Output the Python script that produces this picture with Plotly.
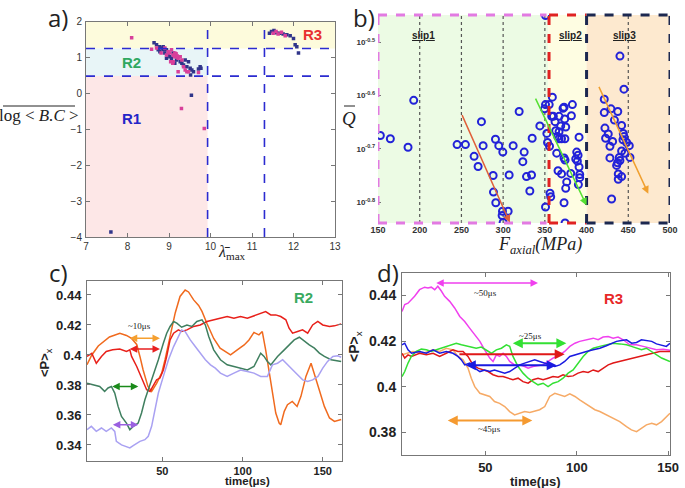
import plotly.graph_objects as go

W, H = 685, 488
def px(x): return x / W
def py(y): return 1 - y / H

SANS = "Liberation Sans, Arial, sans-serif"
SERIF = "Liberation Serif, Times New Roman, serif"

# ---------------- Panel a data ----------------
a_navy_x = [8.64, 8.70, 8.77, 8.82, 8.86, 8.78, 8.90, 8.94, 8.98, 9.02, 9.10, 9.06, 9.18, 9.27, 9.31,
            9.35, 9.39, 9.43, 9.47, 9.51, 9.55, 9.59, 9.71, 9.75, 9.77, 9.52, 8.86, 8.74, 8.94, 9.14,
            11.42, 11.47, 11.53, 11.59, 11.67, 11.75, 11.84, 11.92, 12.0, 12.04, 12.08, 12.12,
            9.54, 7.6]
a_navy_y = [1.41, 1.35, 1.30, 1.26, 1.21, 1.16, 1.12, 1.21, 1.07, 1.02, 1.12, 0.98, 0.93, 0.88, 0.84,
            0.79, 0.93, 0.74, 0.88, 0.70, 0.65, 0.60, 0.68, 0.74, 0.70, 0.51, 1.30, 1.21, 0.98, 0.84,
            1.67, 1.72, 1.75, 1.69, 1.67, 1.65, 1.63, 1.60, 1.53, 1.35, 1.30, 1.12,
            -0.05, -3.86]
a_pink_x = [8.58, 8.70, 8.81, 8.90, 8.98, 9.02, 9.06, 9.10, 9.14, 9.17, 9.18, 9.22, 9.27, 9.10, 9.31,
            9.35, 9.39, 9.43, 9.22, 9.47, 8.94, 9.04, 9.09, 9.71, 9.12, 9.16, 9.20, 9.14,
            11.51, 11.58, 11.63, 11.71, 11.80,
            8.1, 9.3, 9.85]
a_pink_y = [1.23, 1.26, 1.12, 1.26, 1.16, 1.12, 1.21, 1.07, 1.02, 1.10, 1.02, 0.98, 1.02, 0.88, 0.93,
            0.74, 0.65, 0.60, 0.60, 0.60, 1.07, 0.88, 0.84, 0.58, 1.05, 1.08, 1.04, 1.12,
            1.67, 1.72, 1.65, 1.70, 1.60,
            1.55, -0.42, -0.98]
a_vlines = [9.93, 11.3]
a_hlines = [1.25, 0.48]

# ---------------- Panel b data ----------------
b_force = [152.8, 164.8, 186, 192.8, 244.8, 254.8, 274, 276, 265.2, 270, 290.8, 294.8, 299.6, 288,
           288.4, 291.2, 299.2, 298.8, 306, 300, 307.2, 312, 319.2, 323.6, 325.2, 328, 334, 332,
           334.8, 344, 349.6, 350.8, 350.8, 352.4, 353.2, 355.2, 355.6, 350.8, 356.2, 357, 359,
           358.2, 360.2, 362.2, 363, 365.4, 367, 364.2, 367, 369, 367, 371.8, 373, 375, 373.8, 370,
           374, 373, 374.2, 365.8, 370, 376.2, 375, 373, 374.2, 381, 383, 381.8, 387, 388.2, 389.8,
           389, 391, 391, 391.8, 390.2, 391.8,
           440, 444.8, 421.2, 421.2, 429.2, 437.4, 433.4, 422, 426, 422.8, 431.2, 442, 444, 444.8,
           443.6, 448, 451.2, 428, 442, 446, 452, 428, 439.2, 437.2, 440, 436, 438, 442, 438, 430]
b_q_log10 = [-0.675, -0.681, -0.697, -0.609, -0.692, -0.692, -0.649, -0.694, -0.714, -0.733, -0.682,
             -0.694, -0.706, -0.75, -0.781, -0.801, -0.817, -0.825, -0.817, -0.838, -0.749, -0.694,
             -0.63, -0.724, -0.706, -0.752, -0.749, -0.779, -0.68, -0.657, -0.625, -0.617, -0.45,
             -0.671, -0.688, -0.617, -0.695, -0.809, -0.783, -0.79, -0.603, -0.639, -0.639, -0.649,
             -0.666, -0.677, -0.681, -0.708, -0.668, -0.657, -0.639, -0.624, -0.622, -0.659, -0.644,
             -0.681, -0.681, -0.717, -0.721, -0.741, -0.747, -0.762, -0.774, -0.801, -0.839, -0.746,
             -0.617, -0.638, -0.719, -0.706, -0.712, -0.723, -0.734, -0.678, -0.754, -0.767, -0.748,
             -0.526, -0.588, -0.607, -0.632, -0.625, -0.63, -0.646, -0.661, -0.672, -0.68, -0.686,
             -0.656, -0.671, -0.677, -0.683, -0.688, -0.694, -0.695, -0.704, -0.708, -0.716, -0.717,
             -0.716, -0.726, -0.722, -0.731, -0.747, -0.752, -0.757, -0.794]
b_q = [10 ** v for v in b_q_log10]
b_dotted = [200, 250, 300, 350, 450]
b_slips = ["slip1", "slip2", "slip3"]
b_slip_x = [204, 381, 446]

# ---------------- Panel c data (time in us, <P>x) ----------------
c_orange_t = [3, 6, 10, 17, 23.5, 27.6, 30.8, 34, 36, 38, 41, 43.3, 46.4, 49.6, 51.7, 54.8, 58, 61, 64.2,
              66.3, 69.5, 72.6, 74.7, 77.8, 82, 86, 92.5, 96.7, 101, 104, 107.1, 110.2, 112.3, 114.4,
              116.5, 118.6, 120.7, 122.8, 123.8, 126, 128, 131, 134, 136.4, 139.5, 142.7, 145.8, 149,
              151, 154.2, 157.3, 161.5]
c_orange_v = [0.3935, 0.400, 0.406, 0.412, 0.4145, 0.413, 0.411, 0.407, 0.399, 0.390, 0.379, 0.3757,
              0.381, 0.388, 0.397, 0.4123, 0.428, 0.439, 0.4433, 0.442, 0.4367, 0.433, 0.429, 0.421,
              0.411, 0.4045, 0.400, 0.4034, 0.4067, 0.410, 0.415, 0.4134, 0.4156, 0.4034, 0.39, 0.3768,
              0.3613, 0.3546, 0.3535, 0.3624, 0.3668, 0.369, 0.3657, 0.3724, 0.3857, 0.3945, 0.3834,
              0.3724, 0.3657, 0.358, 0.3557, 0.357]
c_red_t = [3, 6, 8.8, 12, 15, 19, 23.4, 27.6, 29.7, 30.8, 34, 37, 40.2, 42.3, 44.4, 46.4, 48.5, 50.6,
           52.7, 54.8, 57, 60, 62, 65.3, 69.5, 73.6, 77.8, 82, 86, 90.4, 94.6, 98.7, 103, 107, 111.3,
           114.4, 117.6, 120.7, 123.8, 127, 129, 131.2, 134.3, 137.4, 140.6, 143.7, 146.9, 150, 154.2,
           157.3, 161.5]
c_red_v = [0.399, 0.401, 0.3945, 0.399, 0.4023, 0.4034, 0.4039, 0.4023, 0.4034, 0.399, 0.3923, 0.3845,
           0.3768, 0.3757, 0.380, 0.3835, 0.3846, 0.390, 0.399, 0.410, 0.4145, 0.4167, 0.4156, 0.4167,
           0.419, 0.420, 0.4223, 0.4234, 0.4245, 0.4256, 0.4245, 0.4256, 0.4245, 0.426, 0.4278, 0.4289,
           0.4267, 0.4267, 0.4256, 0.4234, 0.4178, 0.4145, 0.4156, 0.4167, 0.4145, 0.420, 0.4223, 0.420,
           0.419, 0.4194, 0.4207]
c_green_t = [3, 6.7, 10.9, 14, 16.1, 18.2, 20.3, 22.4, 24.5, 27.6, 29.7, 31.8, 34.9, 37, 39.1, 41.2,
             44.4, 47.5, 50.6, 52.7, 54.8, 57, 59, 62, 65.3, 68.4, 71.5, 74.7, 76.8, 78.9, 82, 86.2,
             90.4, 94.6, 98.7, 103, 107.1, 109, 111.3, 113.4, 115.5, 117.6, 121.8, 126, 129, 132.2,
             135.4, 138.5, 141.6, 144.8, 147.9, 151, 155.2, 161.5]
c_green_v = [0.3812, 0.380, 0.379, 0.3757, 0.378, 0.379, 0.3746, 0.3657, 0.359, 0.3546, 0.3502, 0.3524,
             0.3546, 0.3613, 0.3701, 0.3768, 0.3868, 0.3968, 0.4078, 0.4145, 0.419, 0.4223, 0.4212,
             0.4185, 0.420, 0.419, 0.4223, 0.4234, 0.420, 0.4123, 0.4034, 0.3968, 0.3934, 0.3923,
             0.3912, 0.390, 0.3923, 0.3968, 0.4012, 0.399, 0.3957, 0.3934, 0.399, 0.4034, 0.4067,
             0.410, 0.4118, 0.409, 0.4067, 0.4045, 0.4012, 0.399, 0.3968, 0.3956]
c_lav_t = [3, 5.7, 8.8, 12, 15, 18.2, 20.3, 21.3, 24.5, 27.6, 29.7, 31.8, 34, 36, 39.1, 41.2, 43.3,
           45.4, 47.5, 50.6, 53.8, 57, 60, 62, 64.2, 67.4, 70.5, 73.6, 76.8, 80, 83, 86.2, 90.4, 94.6,
           98.7, 103, 107.1, 111.3, 115.5, 118.6, 121.8, 125, 128, 131.2, 134.3, 137.5, 140.6, 143.7,
           147, 150, 153, 156.3, 159.4, 161.5]
c_lav_v = [0.3502, 0.3524, 0.3491, 0.3513, 0.349, 0.3513, 0.349, 0.3424, 0.340, 0.3391, 0.338, 0.3396,
           0.3413, 0.3424, 0.3435, 0.3458, 0.3524, 0.3635, 0.3746, 0.3857, 0.3968, 0.4056, 0.4123,
           0.4167, 0.4156, 0.410, 0.4056, 0.4012, 0.3968, 0.3934, 0.3912, 0.3879, 0.3857, 0.3879,
           0.390, 0.389, 0.3879, 0.3857, 0.3857, 0.3934, 0.3945, 0.3968, 0.3934, 0.390, 0.3868,
           0.3834, 0.3823, 0.3834, 0.3857, 0.3912, 0.3957, 0.399, 0.3994, 0.3985]

# ---------------- Panel d data ----------------
d_mag_t = [4.4, 5.9, 7.7, 9.5, 11.3, 14, 16.8, 18.6, 20.4, 22.3, 24, 26, 27.7, 30.5, 33.2, 36, 38.7,
           41.4, 44.2, 47, 49.6, 52.4, 54.2, 56, 57.8, 59.7, 61.5, 63.3, 66, 68.8, 71.5, 73.4, 76, 78.8,
           81.6, 84.3, 87, 90.7, 93.4, 96.2, 99, 101.6, 105.3, 109, 111.7, 114.4, 117.2, 119.9, 122.6,
           125.4, 129, 132.7, 136.3, 140, 143.6, 147.3, 151]
d_mag_v = [0.433, 0.436, 0.4366, 0.438, 0.4396, 0.4425, 0.4436, 0.4432, 0.4436, 0.4425, 0.444, 0.4418,
           0.4396, 0.4374, 0.4345, 0.4308, 0.4286, 0.4257, 0.4228, 0.4199, 0.4162, 0.4126, 0.4111,
           0.414, 0.4133, 0.4147, 0.4133, 0.4111, 0.4096, 0.4096, 0.4089, 0.4082, 0.4089, 0.4092,
           0.4096, 0.4111, 0.4126, 0.414, 0.4155, 0.4177, 0.4191, 0.4199, 0.4206, 0.4213, 0.4206,
           0.4218, 0.422, 0.4213, 0.4218, 0.4206, 0.4184, 0.4184, 0.4177, 0.4169, 0.4162, 0.4165,
           0.416]
d_blue_t = [4.4, 5.9, 7.7, 9.6, 14, 17.7, 21.4, 25, 28.6, 32.3, 35, 36.9, 38.7, 41.4, 44.2, 47, 49.6,
            52.4, 55, 57.8, 60.6, 63.3, 66, 68.8, 71.5, 74.3, 77, 79.7, 82.5, 85.2, 88, 90.7, 93.4,
            96.2, 99, 101.6, 105.3, 109, 112.6, 116.2, 119, 121.7, 124.5, 127.2, 130, 132.7, 135.4,
            138.1, 141, 143.6, 146.4, 149, 151]
d_blue_v = [0.4184, 0.4191, 0.4162, 0.4147, 0.4155, 0.4147, 0.4162, 0.4147, 0.4155, 0.4147, 0.4133,
            0.4118, 0.4096, 0.4104, 0.4082, 0.4067, 0.4074, 0.4067, 0.4074, 0.4067, 0.406, 0.4067,
            0.4082, 0.4096, 0.4104, 0.4111, 0.4118, 0.4111, 0.4104, 0.4096, 0.4089, 0.4096, 0.4111,
            0.4133, 0.414, 0.4147, 0.4155, 0.4162, 0.4169, 0.418, 0.4191, 0.4199, 0.4203, 0.4206,
            0.4191, 0.4194, 0.4206, 0.4203, 0.4199, 0.4188, 0.4184, 0.4177, 0.4191]
d_green_t = [4.4, 5.9, 7.7, 9.5, 12.2, 15, 17.7, 20.4, 23.2, 26, 28.6, 31.4, 34.1, 36.9, 39.6, 42.3, 45,
             47.8, 50.5, 53.3, 56, 58.8, 61.5, 63.3, 65.1, 67.9, 70.6, 73.4, 76, 78.8, 81.6, 84.3, 87,
             89.8, 92.5, 95.3, 98, 100.7, 103.5, 106.2, 109, 112.6, 116.2, 119.9, 123.5, 127.2, 129.9,
             132.7, 135.4, 138.1, 141, 143.6, 146.4, 151]
d_green_v = [0.4045, 0.4067, 0.4104, 0.4133, 0.4155, 0.4165, 0.4162, 0.4155, 0.4162, 0.4169, 0.4177,
             0.4184, 0.4191, 0.4184, 0.418, 0.4174, 0.4169, 0.4174, 0.4162, 0.4147, 0.4162, 0.4169,
             0.4184, 0.4177, 0.4133, 0.4089, 0.406, 0.4038, 0.4023, 0.4009, 0.4016, 0.4001, 0.4016,
             0.4023, 0.4038, 0.406, 0.4074, 0.4104, 0.4133, 0.4155, 0.4169, 0.4177, 0.4184, 0.4191,
             0.4188, 0.4184, 0.4177, 0.4169, 0.4162, 0.4169, 0.4155, 0.414, 0.4126, 0.4111]
d_red_t = [4.4, 5.9, 7.7, 9.6, 14, 17.7, 21.4, 25, 28.6, 32.3, 35, 37.8, 40.5, 43.2, 46, 48.7, 51.5,
           54.2, 57, 59.7, 62.4, 65.1, 67.9, 70.6, 73.4, 76, 78.8, 81.6, 84.3, 87, 89.8, 92.5, 95.3, 98,
           100.7, 103.5, 106.2, 109, 111.7, 114.4, 117.2, 119.9, 123.5, 127.2, 130.8, 134.5, 138.1,
           141.8, 145.4, 151]
d_red_v = [0.4147, 0.4126, 0.414, 0.4133, 0.4147, 0.414, 0.4147, 0.4133, 0.4147, 0.4162, 0.4155,
           0.4155, 0.4133, 0.4096, 0.4082, 0.4074, 0.4067, 0.4053, 0.4045, 0.4045, 0.4038, 0.4031,
           0.4038, 0.4023, 0.4016, 0.4031, 0.4038, 0.4031, 0.4038, 0.4045, 0.4042, 0.4053, 0.4045,
           0.4048, 0.406, 0.4067, 0.4063, 0.4074, 0.4067, 0.4082, 0.4096, 0.4104, 0.4111, 0.4118,
           0.4126, 0.4133, 0.414, 0.4145, 0.4155, 0.4155]
d_orange_t = [4.4, 10.4, 15.9, 21.4, 25, 28.6, 32.3, 35, 37.8, 40.5, 42.3, 44.2, 47, 49.6, 52.4, 55,
              57.8, 60.6, 63.3, 66, 68.8, 71.5, 74.3, 77, 79.7, 82.5, 85.2, 88, 90.7, 93.4, 96.2, 99,
              101.6, 104.4, 107.1, 109.9, 112.6, 116.2, 119.9, 123.5, 127.2, 129.9, 132.7, 135.4,
              138.1, 141, 143.6, 146.4, 149, 151]
d_orange_v = [0.414, 0.4155, 0.4147, 0.4162, 0.4155, 0.4169, 0.4162, 0.4133, 0.4118, 0.4082, 0.4038,
              0.4001, 0.3972, 0.3965, 0.3958, 0.3936, 0.3928, 0.3914, 0.3892, 0.3877, 0.3885, 0.3892,
              0.3888, 0.3895, 0.39, 0.3914, 0.3958, 0.3972, 0.3965, 0.3958, 0.3969, 0.3958, 0.3943,
              0.3928, 0.3914, 0.39, 0.3892, 0.3877, 0.3863, 0.3848, 0.3826, 0.3812, 0.3804, 0.3819,
              0.3834, 0.3841, 0.3834, 0.3848, 0.387, 0.3885]

fig = go.Figure()

# Panel a traces
fig.add_trace(go.Scatter(x=a_navy_x, y=a_navy_y, mode="markers", xaxis="x", yaxis="y",
                         marker=dict(color="#30358a", size=3.5, symbol="square")))
fig.add_trace(go.Scatter(x=a_pink_x, y=a_pink_y, mode="markers", xaxis="x", yaxis="y",
                         marker=dict(color="#d8409a", size=3.5, symbol="square")))
# Panel b
fig.add_trace(go.Scatter(x=b_force, y=b_q, mode="markers", xaxis="x2", yaxis="y2",
                         marker=dict(symbol="circle-open", size=7, color="#2222d8", line=dict(width=2))))
# Panel c
for t, v, col in [(c_orange_t, c_orange_v, "#f06a1e"), (c_red_t, c_red_v, "#e8201a"),
                  (c_green_t, c_green_v, "#3f7f5f"), (c_lav_t, c_lav_v, "#a9a1f2")]:
    fig.add_trace(go.Scatter(x=t, y=v, mode="lines", xaxis="x3", yaxis="y3",
                             line=dict(color=col, width=1.5)))
# Panel d
for t, v, col in [(d_orange_t, d_orange_v, "#f6aa66"), (d_mag_t, d_mag_v, "#f040ee"),
                  (d_red_t, d_red_v, "#e01818"), (d_green_t, d_green_v, "#33e033"),
                  (d_blue_t, d_blue_v, "#1a1ae0")]:
    fig.add_trace(go.Scatter(x=t, y=v, mode="lines", xaxis="x4", yaxis="y4",
                             line=dict(color=col, width=1.5)))

shapes = []
# a backgrounds
shapes += [
    dict(type="rect", xref="x", yref="y", x0=7, x1=13, y0=a_hlines[0], y1=2, fillcolor="#fdfbdc", line_width=0, layer="below"),
    dict(type="rect", xref="x", yref="y", x0=7, x1=a_vlines[0], y0=a_hlines[1], y1=a_hlines[0], fillcolor="#e8f5f7", line_width=0, layer="below"),
    dict(type="rect", xref="x", yref="y", x0=7, x1=a_vlines[0], y0=-4, y1=a_hlines[1], fillcolor="#fde7e7", line_width=0, layer="below"),
]
for xv in a_vlines:
    shapes.append(dict(type="line", xref="x", yref="y", x0=xv, x1=xv, y0=-4, y1=2,
                       line=dict(color="#2b2bd0", width=1.6, dash="dash")))
for yv in a_hlines:
    shapes.append(dict(type="line", xref="x", yref="y", x0=7, x1=13, y0=yv, y1=yv,
                       line=dict(color="#2b2bd0", width=1.6, dash="dash")))
# b backgrounds
shapes += [
    dict(type="rect", xref="x2", yref="y2 domain", x0=150, x1=354, y0=0, y1=1, fillcolor="#ecfbe4", line_width=0, layer="below"),
    dict(type="rect", xref="x2", yref="y2 domain", x0=354, x1=400, y0=0, y1=1, fillcolor="#fefde2", line_width=0, layer="below"),
    dict(type="rect", xref="x2", yref="y2 domain", x0=400, x1=500, y0=0, y1=1, fillcolor="#fde9cf", line_width=0, layer="below"),
]
for xv in b_dotted:
    shapes.append(dict(type="line", xref="x2", yref="y2 domain", x0=xv, x1=xv, y0=0, y1=1,
                       line=dict(color="#555555", width=1.2, dash="dot"), layer="below"))
def dashed_box(x0, x1, col, left=True, right=True):
    out = []
    for yv in (0, 1):
        out.append(dict(type="line", xref="x2", yref="y2 domain", x0=x0, x1=x1, y0=yv, y1=yv,
                        line=dict(color=col, width=3, dash="dash")))
    if left:
        out.append(dict(type="line", xref="x2", yref="y2 domain", x0=x0, x1=x0, y0=0, y1=1,
                        line=dict(color=col, width=3, dash="dash")))
    if right:
        out.append(dict(type="line", xref="x2", yref="y2 domain", x0=x1, x1=x1, y0=0, y1=1,
                        line=dict(color=col, width=3, dash="dash")))
    return out
shapes += dashed_box(150, 352, "#e27ae2", left=True, right=False)
shapes += dashed_box(355, 400, "#e02222", left=True, right=False)
shapes += dashed_box(400, 500, "#1c2850", left=True, right=True)
# overline for a's y title and for Q
shapes.append(dict(type="line", xref="paper", yref="paper", x0=px(3), x1=px(75), y0=py(106), y1=py(106),
                   line=dict(color="#222", width=1)))
shapes.append(dict(type="line", xref="paper", yref="paper", x0=px(344), x1=px(355), y0=py(106), y1=py(106),
                   line=dict(color="#222", width=1)))

ann = []
def note(text, x, y, font, xref="paper", yref="paper", **kw):
    if xref == "paper":
        x = px(x)
    if yref == "paper":
        y = py(y)
    d = dict(text=text, xref=xref, yref=yref, x=x, y=y, showarrow=False, xanchor="center",
             yanchor="middle", font=font)
    d.update(kw)
    ann.append(d)

LBL = dict(family="Open Sans, Liberation Sans", size=24, color="#222")
note("a)", 58, 17, LBL)
note("b)", 364, 17, LBL)
note("c)", 58, 272, LBL)
note("d)", 388, 272, LBL)

# a texts
note("<b>R1</b>", 8.1, -0.7, dict(family=SANS, size=15, color="#2424c8"), xref="x", yref="y")
note("<b>R2</b>", 8.1, 0.87, dict(family=SANS, size=15, color="#2fa860"), xref="x", yref="y")
note("<b>R3</b>", 12.45, 1.65, dict(family=SANS, size=15, color="#e83030"), xref="x", yref="y")
note("log &lt; <i>B.C</i> &gt;", 39, 116, dict(family=SERIF, size=17, color="#222"))
note("<i>λ̄</i><sub>max</sub>", 232, 252, dict(family=SERIF, size=16, color="#222"))
# b texts
for s, xs in zip(b_slips, b_slip_x):
    note("<b><u>" + s + "</u></b>", xs, -0.487, dict(family=SANS, size=10, color="#222"), xref="x2", yref="y2")
note("<i>Q</i>", 349, 118, dict(family=SERIF, size=19, color="#222"))
note("<i>F</i><sub><i>axial</i></sub><i>(MPa)</i>", 540, 246, dict(family=SERIF, size=18, color="#222"))

def arrow(xr, yr, x0, y0, x1, y1, col, both=False, w=1.5):
    ann.append(dict(xref=xr, yref=yr, axref=xr, ayref=yr, x=x1, y=y1, ax=x0, ay=y0, text="",
                    showarrow=True, arrowhead=2, arrowsize=1, arrowwidth=w, arrowcolor=col,
                    arrowside="end+start" if both else "end", standoff=0, startstandoff=0))
arrow("x2", "y2", 250, -0.634, 308, -0.838, "#e0603a")
arrow("x2", "y2", 338, -0.603, 400, -0.806, "#55e033")
arrow("x2", "y2", 414, -0.581, 474, -0.784, "#f0a030")

# c annotations
arrow("x3", "y3", 28.7, 0.4112, 48.5, 0.4112, "#f5a030", both=True)
arrow("x3", "y3", 28.7, 0.4039, 48.5, 0.4039, "#e82020", both=True)
arrow("x3", "y3", 17.8, 0.379, 35, 0.379, "#1a8a1a", both=True)
arrow("x3", "y3", 18.2, 0.3535, 35, 0.3535, "#9a60e0", both=True)
note("~10μs", 36, 0.4195, dict(family=SERIF, size=9, color="#222"), xref="x3", yref="y3")
note("<b>R2</b>", 138, 0.4385, dict(family=SANS, size=15, color="#3aaa60"), xref="x3", yref="y3")
note("<b>&lt;P&gt;</b><sub>x</sub>", 45, 363, dict(family=SANS, size=13, color="#222"), textangle=-90)
note("<b>time(μs)</b>", 247, 481, dict(family=SANS, size=11.5, color="#222"))
# d annotations
arrow("x4", "y4", 22.3, 0.4454, 78.8, 0.4454, "#f040ee", both=True)
arrow("x4", "y4", 64.2, 0.4191, 94.3, 0.4191, "#33e033", both=True, w=2)
arrow("x4", "y4", 35, 0.4143, 93.4, 0.4143, "#e01818", w=2)
arrow("x4", "y4", 38.5, 0.4095, 89, 0.4095, "#1a1ae0", both=True, w=2)
arrow("x4", "y4", 28.6, 0.3853, 75.7, 0.3853, "#f59a30", both=True, w=2)
note("~50μs", 50, 0.4412, dict(family=SERIF, size=9, color="#222"), xref="x4", yref="y4")
note("~25μs", 74.5, 0.4222, dict(family=SERIF, size=9, color="#222"), xref="x4", yref="y4")
note("~45μs", 52.5, 0.3815, dict(family=SERIF, size=9, color="#222"), xref="x4", yref="y4")
note("<b>R3</b>", 120, 0.4385, dict(family=SANS, size=15, color="#e82828"), xref="x4", yref="y4")
note("<b>&lt;P&gt;</b><sub>x</sub>", 355, 347, dict(family=SANS, size=14, color="#222"), textangle=-90)
note("<b>time(μs)</b>", 535, 481, dict(family=SANS, size=13, color="#222"))

axcommon = dict(showgrid=False, zeroline=False, showline=True, mirror="ticks", linecolor="#777",
                linewidth=1, ticks="inside", ticklen=4, tickcolor="#777", automargin=False)
fa = dict(family=SANS, size=10, color="#333")
fc = dict(family=SANS, size=11, color="#222")
bax = dict(showgrid=False, zeroline=False, showline=False, ticks="inside", ticklen=3, tickcolor="#777",
           automargin=False)

fig.update_layout(
    template="none",
    width=W, height=H, margin=dict(l=0, r=0, t=0, b=0, pad=0), showlegend=False,
    paper_bgcolor="white", plot_bgcolor="rgba(0,0,0,0)",
    xaxis=dict(domain=[px(86), px(335)], range=[7, 13], anchor="y", tickvals=[7, 8, 9, 10, 11, 12, 13],
               tickfont=fa, ticklabelstandoff=0, **axcommon),
    yaxis=dict(domain=[py(237), py(21.5)], range=[-4, 2], anchor="x", tickvals=[-4, -3, -2, -1, 0, 1, 2],
               tickfont=fa, ticklabelstandoff=1, **axcommon),
    xaxis2=dict(domain=[px(378), px(670)], range=[150, 500], anchor="y2", tickvals=[150, 200, 250, 300, 350, 400, 450, 500],
                ticktext=["<b>%d</b>" % v for v in [150, 200, 250, 300, 350, 400, 450, 500]],
                tickfont=dict(family=SANS, size=9, color="#333"), ticklabelstandoff=0, **bax),
    yaxis2=dict(domain=[py(223), py(15)], type="log", range=[-0.839, -0.449], anchor="x2",
                tickvals=[10 ** -0.5, 10 ** -0.6, 10 ** -0.7, 10 ** -0.8],
                ticktext=["<b>10<sup>-0.5</sup></b>", "<b>10<sup>-0.6</sup></b>", "<b>10<sup>-0.7</sup></b>", "<b>10<sup>-0.8</sup></b>"],
                tickfont=dict(family=SANS, size=8, color="#333"), ticklabelstandoff=2, **bax),
    xaxis3=dict(domain=[px(87), px(342)], range=[3, 162], anchor="y3", tickvals=[50, 100, 150],
                ticktext=["<b>50</b>", "<b>100</b>", "<b>150</b>"],
                tickfont=fc, ticklabelstandoff=0, **axcommon),
    yaxis3=dict(domain=[py(461), py(281)], range=[0.3293, 0.4493], anchor="x3",
                tickvals=[0.34, 0.36, 0.38, 0.40, 0.42, 0.44],
                ticktext=["<b>0.34</b>", "<b>0.36</b>", "<b>0.38</b>", "<b>0.4</b>", "<b>0.42</b>", "<b>0.44</b>"],
                tickfont=dict(family=SANS, size=13, color="#222"), ticklabelstandoff=2, **axcommon),
    xaxis4=dict(domain=[px(402), px(670)], range=[4.4, 151], anchor="y4", tickvals=[50, 100, 150],
                ticktext=["<b>50</b>", "<b>100</b>", "<b>150</b>"],
                tickfont=dict(family=SANS, size=13, color="#222"), ticklabelstandoff=0, **axcommon),
    yaxis4=dict(domain=[py(455), py(273)], range=[0.3702, 0.4498], anchor="x4",
                tickvals=[0.38, 0.40, 0.42, 0.44],
                ticktext=["<b>0.38</b>", "<b>0.4</b>", "<b>0.42</b>", "<b>0.44</b>"],
                tickfont=dict(family=SANS, size=14, color="#222"), ticklabelstandoff=2, **axcommon),
    shapes=shapes, annotations=ann,
)
fig.write_html("out.html", config={"displayModeBar": False},
               post_script="document.body.style.margin='0px';")
